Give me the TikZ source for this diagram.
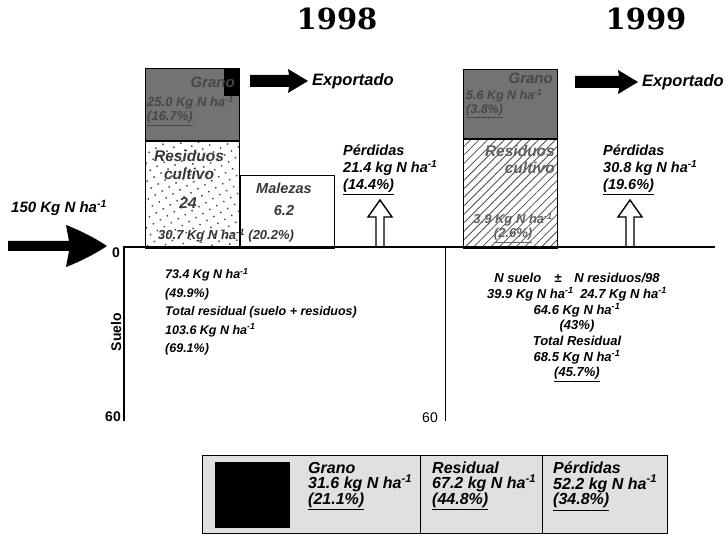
\documentclass[tikz,border=0pt]{standalone}
\usepackage{fontspec}
\setmainfont{Liberation Sans}
\newfontfamily\yearfont{DejaVu Serif}
\usetikzlibrary{arrows.meta,patterns.meta}

\newcommand{\nha}{N ha\textsuperscript{-1}}

\begin{document}
\begin{tikzpicture}[
  x=1pt, y=-1pt,
  year/.style={font=\yearfont\bfseries\fontsize{29}{29}\selectfont, inner sep=0pt},
  bar/.style={draw, line width=0.8pt, inner sep=0pt, anchor=north west},
  boxtxt/.style={font=\bfseries\itshape\fontsize{13}{14}\selectfont, text=black!72, inner sep=0pt, align=left},
  bigtxt/.style={font=\bfseries\itshape\fontsize{15.5}{18}\selectfont, text=black!78, inner sep=0pt, align=center},
  note/.style={font=\bfseries\itshape\fontsize{14.5}{17}\selectfont, inner sep=0pt, align=left},
  soil/.style={font=\bfseries\itshape\fontsize{12.5}{18.5}\selectfont, inner sep=0pt, align=left},
  soilb/.style={font=\bfseries\itshape\fontsize{13}{15.7}\selectfont, inner sep=0pt, align=center},
  leg/.style={font=\bfseries\itshape\fontsize{16}{13.5}\selectfont, inner sep=0pt, align=left, anchor=north west},
  axis/.style={font=\bfseries\fontsize{14}{14}\selectfont, inner sep=0pt},
  pics/exparrow/.style={code={
    \fill (0,-6) -- (#1-19,-6) -- (#1-20,-12) -- (#1,0) -- (#1-20,12) -- (#1-19,6) -- (0,6) -- cycle;}},
  pics/lossarrow/.style={code={
    \draw[line width=1.4pt, line join=miter] (-4,0) -- (-4,-30) -- (-12,-30) -- (0,-47) -- (12,-30) -- (4,-30) -- (4,0);}}
]
  \useasboundingbox (0,0) rectangle (727,534);

  \node[year] (y98) at (337,19) {1998};
  \node[year] (y99) at (646,19) {1999};

  % 1998
  \node[bar, fill=black!55, minimum width=94pt, minimum height=72pt] (grano98) at (145,68) {};
  \node[bar, fill=black, minimum width=15pt, minimum height=27pt, anchor=north east] (tag98) at (grano98.north east) {};
  \node[bar, pattern={Dots[distance=8pt,radius=1pt,angle=30]}, pattern color=black!75, minimum width=94pt, minimum height=107pt] (resid98) at (grano98.south west) {};
  \node[bar, fill=white, minimum width=94pt, minimum height=73pt, anchor=south west] (malez98) at (resid98.south east) {};

  \node[boxtxt, font=\bfseries\itshape\fontsize{15}{15}\selectfont, anchor=north east] (granot98) at (235,77) {Grano};
  \node[boxtxt, anchor=north west] (granov98) at (147,96) {25.0 Kg \nha\\\underline{(16.7\%)}};
  \node[bigtxt, anchor=north] (resit98) at (189,150) {Residuos\\cultivo};
  \node[bigtxt, anchor=north] (resin98) at (188,197) {24};
  \node[boxtxt, text=black!80, anchor=north west] (resiv98) at (158,229) {30.7 Kg \nha\ (20.2\%)};
  \node[bigtxt, font=\bfseries\itshape\fontsize{14.5}{22}\selectfont, anchor=north] (malt98) at (284,183) {Malezas\\6.2};

  \pic at (250,81) {exparrow=58};
  \node[note, font=\bfseries\itshape\fontsize{16.5}{17}\selectfont, anchor=base west] (exp98) at (312,86) {Exportado};

  \node[note, anchor=north west] (loss98) at (343,145) {Pérdidas\\21.4 kg \nha\\\underline{(14.4\%)}};
  \coordinate (lossb98) at (380,247);
  \pic at (lossb98) {lossarrow};

  % 1999
  \node[bar, fill=black!55, minimum width=94pt, minimum height=69pt] (grano99) at (463,69) {};
  \node[bar, pattern={Lines[angle=45,distance=6pt,line width=0.8pt]}, pattern color=black!70, minimum width=94pt, minimum height=109pt] (resid99) at (grano99.south west) {};

  \node[boxtxt, font=\bfseries\itshape\fontsize{15}{15}\selectfont, anchor=north east] (granot99) at (553,73) {Grano};
  \node[boxtxt, font=\bfseries\itshape\fontsize{12.5}{14}\selectfont, anchor=north west] (granov99) at (466,89) {5.6 Kg \nha\\\underline{(3.8\%)}};
  \node[bigtxt, font=\bfseries\itshape\fontsize{15.5}{17}\selectfont, text=black!62, align=right, anchor=north east] (resit99) at (555,145) {Residuos\\cultivo};
  \node[boxtxt, text=black!62, align=center, anchor=north east] (resiv99) at (553,213) {3.9 Kg \nha\\\underline{(2.6\%)}};

  \pic at (575,82) {exparrow=63};
  \node[note, font=\bfseries\itshape\fontsize{16.5}{17}\selectfont, anchor=base west] (exp99) at (642,87) {Exportado};

  \node[note, anchor=north west] (loss99) at (603,145) {Pérdidas\\30.8 kg \nha\\\underline{(19.6\%)}};
  \coordinate (lossb99) at (630,247);
  \pic at (lossb99) {lossarrow};

  % entrada
  \node[note, font=\bfseries\itshape\fontsize{15}{17}\selectfont, anchor=base west] (input) at (11,213) {150 Kg \nha};
  \fill (8,241) -- (69,241) -- (66,225) .. controls (84,232) and (98,240) .. (107,246)
    .. controls (98,252) and (84,260) .. (66,267) -- (69,251) -- (8,251) -- cycle;

  % suelo
  \coordinate (orig) at (124,247);
  \coordinate (bot) at (124,421);
  \coordinate (mid) at (445,247);
  \coordinate (midb) at (445,421);
  \coordinate (end) at (715,247);
  \draw[line width=1.6pt] (bot) -- (orig) -- (end);
  \draw[line width=1pt] (mid) -- (midb);

  \node[axis, anchor=base east] (zero) at (120,258) {0};
  \node[axis, anchor=base east] (sixty) at (121,421) {60};
  \node[axis, font=\fontsize{14}{14}\selectfont, anchor=base east] (sixtyb) at (438,422) {60};
  \node[axis, font=\bfseries\fontsize{14}{14}\selectfont, rotate=90] (suelo) at (116,332) {Suelo};

  \node[soil, anchor=north west] (soil98) at (165,268) {73.4 Kg \nha\\(49.9\%)\\Total residual (suelo + residuos)\\103.6 Kg \nha\\(69.1\%)};
  \node[soilb, anchor=north] (soil99) at (577,273) {N suelo\quad ±\quad N residuos/98\\39.9 Kg \nha\enspace 24.7 Kg \nha\\64.6 Kg \nha\\(43\%)\\Total Residual\\68.5 Kg \nha\\\underline{(45.7\%)}};

  % leyenda
  \node[draw, line width=1pt, fill=black!12, minimum width=465pt, minimum height=78pt, inner sep=0pt, anchor=north west] (legend) at (202,455) {};
  \node[fill=black, minimum width=75pt, minimum height=66pt, inner sep=0pt, anchor=north west] (legsq) at (215,462) {};
  \draw[line width=0.8pt] (legend.north west) ++(218,0) -- ++(0,78);
  \draw[line width=0.8pt] (legend.north west) ++(340,0) -- ++(0,78);
  \node[leg] (leggr) at (308,462) {Grano\\31.6 kg \nha\\\underline{(21.1\%)}};
  \node[leg] (legres) at (432,462) {Residual\\67.2 kg \nha\\\underline{(44.8\%)}};
  \node[leg] (legloss) at (553,462) {Pérdidas\\52.2 kg \nha\\\underline{(34.8\%)}};
\end{tikzpicture}
\end{document}
